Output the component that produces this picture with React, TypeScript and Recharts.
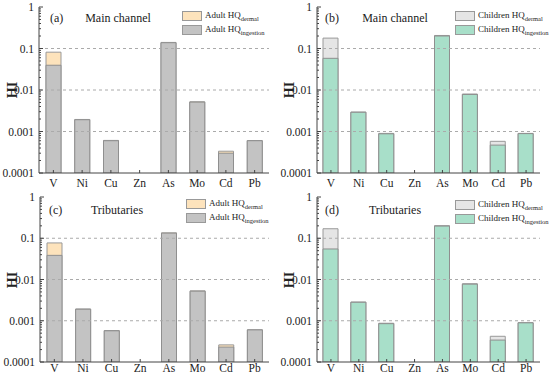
import React from 'react';
import { ComposedChart, Bar, XAxis, YAxis, ReferenceLine } from 'recharts';

const elements = ['V', 'Ni', 'Cu', 'Zn', 'As', 'Mo', 'Cd', 'Pb'];

const adultMainIngestion = [0.0395, 0.00192, 0.0006, null, 0.138, 0.0051, 0.0003, 0.0006];
const adultMainDermal = [0.042, 0.00003, 0.00001, null, 0.002, 0.0001, 0.000035, 0.000005];
const childMainIngestion = [0.058, 0.0029, 0.00088, null, 0.2, 0.0078, 0.00047, 0.00089];
const childMainDermal = [0.12, 0.00005, 0.00002, null, 0.006, 0.0002, 0.00011, 0.00001];
const adultTribIngestion = [0.0385, 0.0019, 0.00057, null, 0.133, 0.0052, 0.00023, 0.0006];
const adultTribDermal = [0.0385, 0.00003, 0.00001, null, 0.002, 0.0001, 0.00003, 0.000005];
const childTribIngestion = [0.055, 0.0028, 0.00085, null, 0.197, 0.0077, 0.00034, 0.00089];
const childTribDermal = [0.115, 0.00005, 0.00002, null, 0.005, 0.0002, 0.00008, 0.00001];

const majorTicks = [1, 0.1, 0.01, 0.001, 0.0001];
const majorLabels = ['1', '0.1', '0.01', '0.001', '0.0001'];
const gridValues = [0.1, 0.01, 0.001];
const decades = [0.0001, 0.001, 0.01, 0.1];
const minorMultipliers = [2, 3, 4, 5, 6, 7, 8, 9];
const allTicks = [...majorTicks, ...decades.flatMap((d) => minorMultipliers.map((m) => m * d))];

const FONT = '"Liberation Serif", "Times New Roman", serif';
const AXIS = '#444';

function buildRows(ing: (number | null)[], derm: (number | null)[]) {
  return elements.map((el, i) => ({
    el,
    ingestion: ing[i],
    total: ing[i] == null ? null : (ing[i] as number) + (derm[i] as number),
  }));
}

const YTick = (props: any) => {
  const { x, y, payload } = props;
  const v = payload.value;
  const idx = majorTicks.findIndex((m) => Math.abs(m - v) / m < 1e-6);
  const ax = x + 4;
  return (
    <g>
      <line x1={ax} x2={ax + (idx >= 0 ? 4 : 2)} y1={y} y2={y} stroke={AXIS} strokeWidth={1} />
      {idx >= 0 && (
        <text x={x - 1} y={y} dy={4} textAnchor="end" fontFamily={FONT} fontSize={11.5} fill="#222">
          {majorLabels[idx]}
        </text>
      )}
    </g>
  );
};

const makeXTick = (labelDy: number) => (props: any) => {
  const { x, y, payload } = props;
  return (
    <g>
      <line x1={x} x2={x} y1={y} y2={y - 3} stroke={AXIS} strokeWidth={1} />
      <text x={x} y={y + labelDy} textAnchor="middle" fontFamily={FONT} fontSize={11.5} fill="#222">
        {payload.value}
      </text>
    </g>
  );
};

type PanelProps = {
  left: number;
  top: number;
  width: number;
  height: number;
  yWidth: number;
  right: number;
  xHeight: number;
  labelDy: number;
  ing: (number | null)[];
  derm: (number | null)[];
  ingFill: string;
  dermFill: string;
};

const Panel = (p: PanelProps) => {
  const data = buildRows(p.ing, p.derm);
  return (
    <div style={{ position: 'absolute', left: p.left, top: p.top }}>
      <ComposedChart width={p.width} height={p.height} data={data} margin={{ top: 7, right: p.right, left: 0, bottom: 0 }}>
        <XAxis
          dataKey="el"
          height={p.xHeight}
          tickSize={0}
          tickMargin={0}
          tickLine={false}
          axisLine={{ stroke: AXIS }}
          tick={makeXTick(p.labelDy)}
          interval={0}
        />
        <XAxis dataKey="el" xAxisId="b" hide />
        <XAxis dataKey="el" xAxisId="top" orientation="top" height={0} tick={false} tickLine={false} axisLine={{ stroke: AXIS }} />
        <YAxis
          scale="log"
          type="number"
          domain={[0.0001, 1]}
          allowDataOverflow
          ticks={allTicks}
          interval={0}
          width={p.yWidth}
          tickSize={0}
          tickMargin={4}
          tickLine={false}
          axisLine={{ stroke: AXIS }}
          tick={<YTick />}
        />
        <YAxis yAxisId="right" orientation="right" width={0} tick={false} tickLine={false} axisLine={{ stroke: AXIS }} />
        {gridValues.map((g) => (
          <ReferenceLine key={g} y={g} stroke="#aaa" strokeDasharray="3 3" />
        ))}
        <Bar dataKey="total" fill={p.dermFill} stroke="#999" strokeWidth={1} barSize={15} isAnimationActive={false} />
        <Bar dataKey="ingestion" xAxisId="b" fill={p.ingFill} stroke="#8f8f8f" strokeWidth={1} barSize={15} isAnimationActive={false} />
      </ComposedChart>
    </div>
  );
};

const LegendBox = ({ left, top, who, ingFill, dermFill }: any) => {
  const row = (fill: string, sub: string, y: number) => (
    <div style={{ position: 'absolute', left: 0, top: y, display: 'flex', alignItems: 'center', whiteSpace: 'nowrap' }}>
      <div style={{ width: 18, height: 8, background: fill, border: '1px solid #999', marginRight: 3 }} />
      <span style={{ fontFamily: FONT, fontSize: 9, color: '#222', lineHeight: '10px' }}>
        {who} HQ
        <span style={{ fontSize: 6.5, position: 'relative', top: 3 }}>{sub}</span>
      </span>
    </div>
  );
  return (
    <div style={{ position: 'absolute', left, top }}>
      {row(dermFill, 'dermal', 0)}
      {row(ingFill, 'ingestion', 14)}
    </div>
  );
};

const Title = ({ left, top, tag, name, nameCenter }: any) => (
  <>
    <div style={{ position: 'absolute', left, top, fontFamily: FONT, fontSize: 12, color: '#222', lineHeight: '12px' }}>{tag}</div>
    <div
      style={{
        position: 'absolute',
        left: nameCenter - 60,
        width: 120,
        textAlign: 'center',
        top,
        fontFamily: FONT,
        fontSize: 12,
        color: '#222',
        lineHeight: '12px',
      }}
    >
      {name}
    </div>
  </>
);

const HILabel = ({ x, y }: any) => (
  <div
    style={{
      position: 'absolute',
      left: x - 15,
      top: y - 8,
      width: 30,
      height: 16,
      textAlign: 'center',
      fontFamily: FONT,
      fontSize: 14,
      fontWeight: 'bold',
      color: '#222',
      lineHeight: '16px',
      transform: 'rotate(-90deg)',
    }}
  >
    HI
  </div>
);

const GREY = '#c3c3c3';
const PEACH = '#fde3bc';
const MINT = '#a8dfc9';
const LIGHT = '#e5e5e5';

export default function App() {
  return (
    <div style={{ position: 'absolute', left: 0, top: 0, width: 550, height: 377, background: '#fff', overflow: 'hidden' }}>
      <Panel left={0} top={0} width={275} height={190} yWidth={39} right={6} xHeight={17} labelDy={14}
        ing={adultMainIngestion} derm={adultMainDermal} ingFill={GREY} dermFill={PEACH} />
      <Panel left={275} top={0} width={275} height={190} yWidth={42} right={10} xHeight={17} labelDy={14}
        ing={childMainIngestion} derm={childMainDermal} ingFill={MINT} dermFill={LIGHT} />
      <Panel left={0} top={190} width={275} height={187} yWidth={40} right={6} xHeight={15} labelDy={10}
        ing={adultTribIngestion} derm={adultTribDermal} ingFill={GREY} dermFill={PEACH} />
      <Panel left={275} top={190} width={275} height={187} yWidth={42} right={10} xHeight={15} labelDy={10}
        ing={childTribIngestion} derm={childTribDermal} ingFill={MINT} dermFill={LIGHT} />

      <HILabel x={13} y={90} />
      <HILabel x={290} y={90} />
      <HILabel x={13} y={280} />
      <HILabel x={290} y={280} />

      <Title left={50} top={12} tag="(a)" name="Main channel" nameCenter={118} />
      <Title left={325} top={12} tag="(b)" name="Main channel" nameCenter={395} />
      <Title left={49} top={204} tag="(c)" name="Tributaries" nameCenter={117} />
      <Title left={325} top={204} tag="(d)" name="Tributaries" nameCenter={395} />

      <LegendBox left={182} top={10} who="Adult" ingFill={GREY} dermFill={PEACH} />
      <LegendBox left={455} top={10} who="Children" ingFill={MINT} dermFill={LIGHT} />
      <LegendBox left={186} top={198} who="Adult" ingFill={GREY} dermFill={PEACH} />
      <LegendBox left={455} top={199} who="Children" ingFill={MINT} dermFill={LIGHT} />
    </div>
  );
}
